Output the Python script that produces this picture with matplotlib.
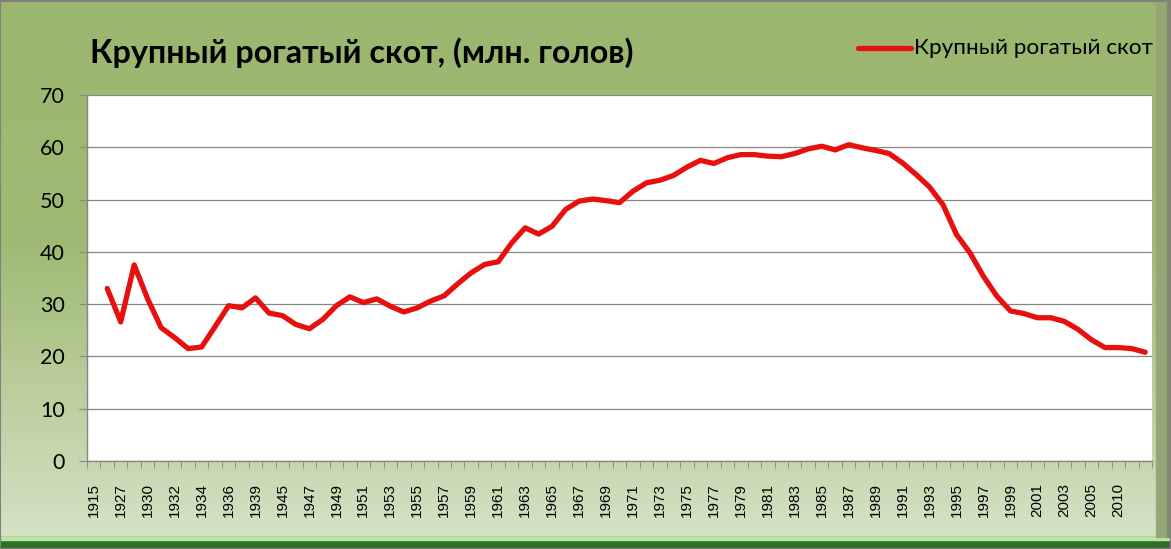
import numpy as np
import matplotlib
matplotlib.use("Agg")
import matplotlib.pyplot as plt
from matplotlib.colors import LinearSegmentedColormap
from matplotlib.lines import Line2D

# категории (каждая вторая подписана на оси)
years = ['1915', '1916', '1927', '1928', '1930', '1931', '1932', '1933', '1934', '1935',
         '1936', '1938', '1939', '1941', '1945', '1946'] + \
        [str(y) for y in range(1947, 2006)] + ['2008', '2010', '2011', '2012']

# поголовье, млн. голов (для 1915 значения нет)
cattle = [np.nan, 33.0, 26.6, 37.5, 31.0, 25.5, 23.6, 21.5, 21.8, 25.7,
          29.7, 29.3, 31.2, 28.3, 27.8, 26.1, 25.3, 27.1, 29.7, 31.4,
          30.3, 31.0, 29.6, 28.5, 29.3, 30.6, 31.6, 33.9, 36.0, 37.6,
          38.1, 41.7, 44.6, 43.4, 44.9, 48.1, 49.7, 50.1, 49.8, 49.4,
          51.6, 53.2, 53.7, 54.6, 56.2, 57.5, 56.9, 58.0, 58.6, 58.6,
          58.3, 58.2, 58.8, 59.7, 60.2, 59.5, 60.5, 59.9, 59.4, 58.8,
          57.0, 54.8, 52.4, 49.0, 43.3, 39.8, 35.3, 31.5, 28.7, 28.2,
          27.4, 27.4, 26.7, 25.2, 23.2, 21.7, 21.7, 21.5, 20.8]

title = 'Крупный рогатый скот, (млн. голов)'
series_name = 'Крупный рогатый скот'
yticks = [0, 10, 20, 30, 40, 50, 60, 70]

W, H = 1171, 549
fig = plt.figure(figsize=(W / 100, H / 100), dpi=100)

# фон с градиентом
bg = fig.add_axes([0, 0, 1, 1], zorder=-10)
cmap = LinearSegmentedColormap.from_list(
    'bg', [(0, '#9bb66e'), (0.45, '#a0ba75'), (1, '#d6e4c8')])
grad = np.linspace(0, 1, 256).reshape(-1, 1)
bg.imshow(grad, aspect='auto', cmap=cmap, extent=[0, W, H, 0])
# рамка: нижняя полоса и правая фаска
bg.fill_between([0, W], H - 12, H, color='#2f6e25')
bg.fill_between([0, W], H - 12, H - 9, color='#b8e6a0')
bg.fill_between([W - 15, W], 0, H - 12, color='#94a877')
bg.fill_between([W - 4, W], 0, H - 12, color='#7d8d66')
bg.plot([0, W, W, 0, 0], [1, 1, H, H, 1], color='#808080', lw=1.5)
bg.set_xlim(0, W)
bg.set_ylim(H, 0)
bg.axis('off')

left, right, top, bottom = 87, 1152, 95, 461
ax = fig.add_axes([left / W, 1 - bottom / H, (right - left) / W, (bottom - top) / H])
ax.set_facecolor('white')

x = np.arange(len(years))
ax.plot(x, cattle, color='#e8100f', lw=3.8, solid_joinstyle='round', solid_capstyle='round')

ax.set_xlim(-0.5, len(years) - 0.5)
ax.set_ylim(0, 70)
ax.set_yticks(yticks)
ax.grid(axis='y', color='#868686', lw=0.9)
ax.set_axisbelow(True)

lab_idx = list(range(0, 77, 2))
ax.set_xticks(lab_idx)
ax.set_xticklabels([years[i] for i in lab_idx], rotation=90, family='Liberation Sans',
                   fontsize=11)
ax.set_xticks(np.arange(-0.5, len(years)), minor=True)
ax.tick_params(axis='x', which='major', length=0, pad=16)
ax.tick_params(axis='x', which='minor', length=5, color='#868686', direction='out')
ax.tick_params(axis='y', length=6, color='#868686', pad=10, labelsize=15.5)
for t in ax.get_yticklabels():
    t.set_family('Lato')

for s in ['top', 'right']:
    ax.spines[s].set_visible(False)
for s in ['left', 'bottom']:
    ax.spines[s].set_color('#868686')
    ax.spines[s].set_linewidth(1.0)

fig.text(90 / W, 1 - 53 / H, title, family='Lato', weight='bold', fontsize=23.2,
         va='center', ha='left', color='black')

fig.add_artist(Line2D([858 / W, 911 / W], [1 - 48 / H, 1 - 48 / H], color='#e8100f',
                      lw=3.8, solid_capstyle='round'))
fig.text(914 / W, 1 - 48 / H, series_name, family='Lato', fontsize=16.2,
         va='center', ha='left', color='black')

fig.savefig('out.png', dpi=100)
